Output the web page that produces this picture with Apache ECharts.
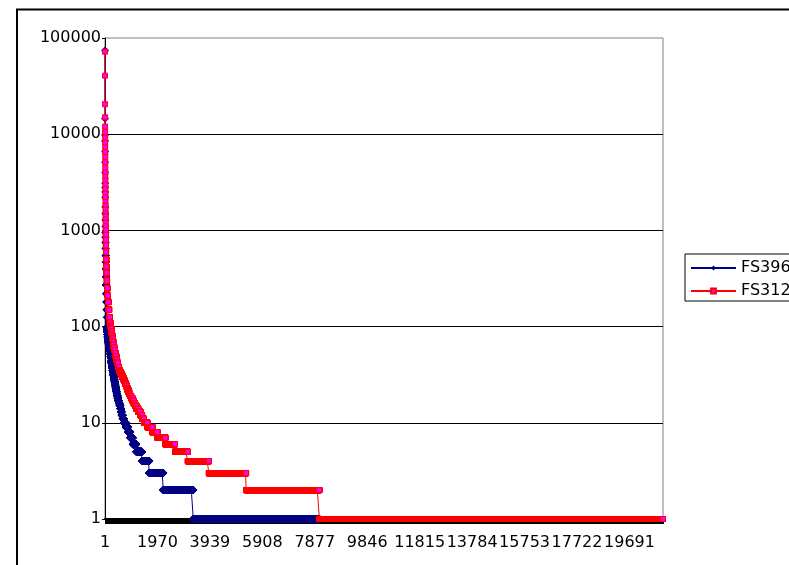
<!DOCTYPE html>
<html><head><meta charset="utf-8">
<script src="https://cdn.jsdelivr.net/npm/echarts@6/dist/echarts.min.js"></script>
<style>html,body{margin:0;padding:0;background:#fff;overflow:hidden}#c{width:789px;height:565px}</style>
</head><body><div id="c"></div>
<script>
// Series names (legend text is clipped by the right edge, as in the reference)
const seriesNames = ['FS396', 'FS312'];

// Rank-frequency data, stored as runs: each value repeats for "count" consecutive ranks
const blueRunValues = [74000, 14600, 9800, 8500, 6600, 5100, 4000, 3100, 2800, 2500, 2200, 1750, 1500, 1280, 1100,
  950, 850, 750, 650, 550, 470, 400, 330, 270, 220, 180, 150, 125,
  97, 93, 88, 83, 78, 74, 71, 68, 66, 63, 61, 58, 55, 52, 49, 47, 44, 42, 41, 39, 38, 37, 35, 34, 32, 31,
  30, 29, 28, 27, 26, 25, 24, 23, 22, 21, 20, 19, 18, 17, 16, 15, 14, 13, 12, 11,
  10, 9, 8, 7, 6, 5, 4, 3, 2, 1];
const blueRunCounts = [1, 1, 1, 1, 1, 1, 1, 1, 1, 1, 1, 1, 1, 1, 1,
  2, 2, 3, 3, 4, 4, 5, 5, 6, 6, 4, 3, 1,
  7, 7, 10, 10, 10, 10, 9, 10, 10, 12, 11, 18, 12, 11, 11, 10, 9, 9, 9, 8, 8, 9, 12, 12, 11, 11,
  9, 9, 9, 10, 11, 11, 12, 13, 13, 15, 15, 18, 20, 25, 30, 30, 25, 25, 35, 45,
  75, 80, 85, 95, 130, 215, 273, 526, 1126, 4736];

const redRunValues = [72100, 40600, 20500, 15000, 12000, 10500, 9200, 8200, 7300, 6500, 5800, 5100, 4500, 4000, 3600,
  3300, 3000, 2700, 2400, 2200, 1970, 1800, 1650, 1500, 1400, 1300, 1200, 1100, 1000,
  900, 800, 700, 600, 500, 420, 360, 300, 250, 210, 180, 150, 125, 110, 103,
  100, 95, 90, 85, 80, 75, 70, 65, 61, 57, 53, 49, 45, 42, 38, 35, 34, 33, 32, 31,
  30, 29, 28, 27, 26, 25, 24, 23, 22, 21, 20, 19, 18, 17, 16, 15, 14, 13, 12, 11,
  10, 9, 8, 7, 6, 5, 4, 3, 2, 1];
const redRunCounts = [1, 1, 1, 1, 1, 1, 1, 1, 1, 1, 1, 1, 1, 1, 1,
  1, 1, 1, 1, 1, 1, 1, 1, 1, 1, 1, 1, 1, 1,
  2, 3, 4, 5, 7, 8, 10, 12, 15, 18, 20, 25, 25, 20, 10,
  14, 14, 13, 13, 15, 16, 15, 15, 23, 23, 27, 27, 27, 35, 36, 36, 23, 23, 23, 22,
  24, 24, 24, 25, 24, 24, 24, 23, 31, 31, 31, 45, 46, 48, 48, 54, 70, 80, 65, 69,
  132, 188, 187, 300, 359, 480, 790, 1400, 2750, 12901];

// Axis settings
const yMin = 1, yMax = 100000;
const xLabelEvery = 1969; // labels 1, 1970, 3939, ...

function expandRuns(values, counts) {
  const out = [];
  for (let i = 0; i < values.length; i++) {
    for (let k = 0; k < counts[i]; k++) out.push(values[i]);
  }
  return out;
}
const blueData = expandRuns(blueRunValues, blueRunCounts);
const redData = expandRuns(redRunValues, redRunCounts);
const nRanks = Math.max(blueData.length, redData.length);
const categories = [];
for (let i = 1; i <= nRanks; i++) categories.push(String(i));

const FONT = 'DejaVu Sans';
const chart = echarts.init(document.getElementById('c'), null, {renderer: 'canvas'});
chart.setOption({
  animation: false,
  backgroundColor: '#ffffff',
  graphic: [{
    type: 'rect', z: -10, silent: true,
    shape: {x: 17, y: 9.5, width: 900, height: 700},
    style: {fill: 'none', stroke: '#000', lineWidth: 2}
  }],
  grid: {left: 105, right: 126, top: 38, bottom: 46, show: true, borderColor: '#808080', borderWidth: 1, containLabel: false},
  legend: {
    orient: 'vertical', left: 685, top: 254,
    padding: [6, 60, 2, 5], itemWidth: 45, itemHeight: 6, itemGap: 7,
    borderColor: '#000', borderWidth: 1,
    textStyle: {fontFamily: FONT, fontSize: 16, color: '#000', lineHeight: 16},
    data: seriesNames
  },
  xAxis: {
    type: 'category', data: categories, boundaryGap: false,
    axisLine: {lineStyle: {color: '#000', width: 2}},
    axisTick: {show: true, interval: 0, length: 5, lineStyle: {color: '#000', width: 1}},
    axisLabel: {interval: xLabelEvery - 1, fontFamily: FONT, fontSize: 16, color: '#000', margin: 16},
    splitLine: {show: false}
  },
  yAxis: {
    type: 'log', logBase: 10, min: yMin, max: yMax,
    axisLine: {show: true, lineStyle: {color: '#000', width: 1}},
    axisTick: {show: true, length: 3, lineStyle: {color: '#000'}},
    axisLabel: {fontFamily: FONT, fontSize: 16, color: '#000', margin: 4,
      formatter: v => String(Math.round(v))},
    splitLine: {show: true, showMaxLine: false, lineStyle: {color: '#000', width: 1}},
    minorTick: {show: false}
  },
  series: [{
    name: seriesNames[0], type: 'line', data: blueData,
    symbol: 'diamond', symbolSize: 8, showSymbol: true, showAllSymbol: true,
    lineStyle: {color: '#000080', width: 1},
    itemStyle: {color: '#000080', borderColor: '#000080', borderWidth: 0},
    emphasis: {disabled: true}, silent: true, z: 3
  }, {
    name: seriesNames[1], type: 'line', data: redData,
    symbol: 'rect', symbolSize: 5, showSymbol: true, showAllSymbol: true,
    lineStyle: {color: '#ff0000', width: 1},
    itemStyle: {color: '#ff00ff', borderColor: '#ff0000', borderWidth: 1},
    emphasis: {disabled: true}, silent: true, z: 4
  }]
});
</script></body></html>
